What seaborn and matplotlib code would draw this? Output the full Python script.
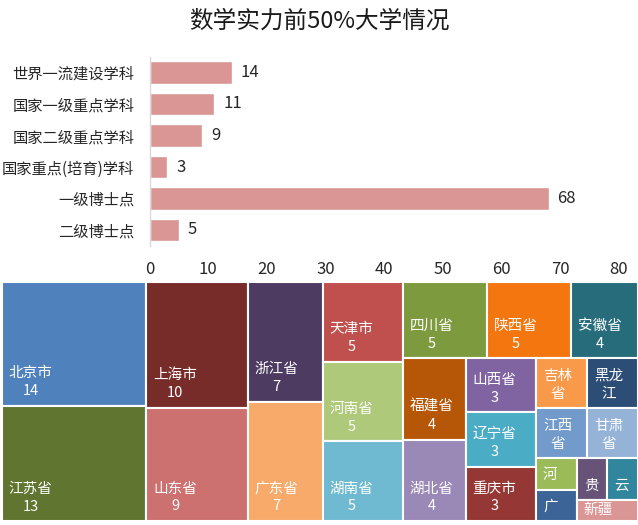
import math
import matplotlib
matplotlib.use("Agg")
import matplotlib.pyplot as plt
from matplotlib.patches import Rectangle
import pandas as pd
import seaborn as sns

# ---------------- data ----------------
title = "数学实力前50%大学情况"

bar_categories = ["世界一流建设学科", "国家一级重点学科", "国家二级重点学科",
                  "国家重点(培育)学科", "一级博士点", "二级博士点"]
bar_values = [14, 11, 9, 3, 68, 5]
bar_ticks = [0, 10, 20, 30, 40, 50, 60, 70, 80]

tm_names = ["北京市", "江苏省", "上海市", "山东省", "浙江省", "广东省",
            "天津市", "河南省", "湖南省", "四川省", "陕西省", "安徽省",
            "福建省", "湖北省", "山西省", "辽宁省", "重庆市",
            "吉林省", "黑龙江", "江西省", "甘肃省",
            "河北省", "广西", "贵州省", "云南省", "新疆"]
tm_values = [14, 13, 10, 9, 7, 7,
             5, 5, 5, 5, 5, 4,
             4, 4, 3, 3, 3,
             2, 2, 2, 2,
             1, 1, 1, 1, 1]
tm_colors = ["#4F81BD", "#5F7530", "#772C2A", "#CD7170", "#4D3B62", "#F8AA6A",
             "#C0504D", "#AFC97A", "#6FBAD0", "#7D9B3E", "#F4760E", "#276C7B",
             "#B65708", "#9A88B7", "#8064A2", "#4BACC6", "#953735",
             "#F89A4A", "#2C4D75", "#729ACA", "#95B3D7",
             "#9BBB59", "#3C6497", "#675278", "#31859C", "#D99694"]

bar_color = "#D99694"

# ---------------- style ----------------
sns.set_theme(style="white")
plt.rcParams["font.family"] = ["Noto Sans CJK SC", "DejaVu Sans"]

W_PX, H_PX = 638, 525
fig = plt.figure(figsize=(W_PX / 100, H_PX / 100), dpi=100)

fig.text(0.5, 1 - 21 / H_PX, title, ha="center", va="center",
         fontsize=17, color="#1a1a1a")

# ---------------- bar chart ----------------
ax = fig.add_axes([149.5 / W_PX, 1 - 245.75 / H_PX,
                   (619 - 149.5) / W_PX, (245.75 - 56.75) / H_PX])
df = pd.DataFrame({"cat": bar_categories, "val": bar_values})
sns.barplot(data=df, x="val", y="cat", orient="h", color=bar_color,
            saturation=1, width=0.73, ax=ax)
ax.set_xlim(bar_ticks[0], bar_ticks[-1])
ax.set_xticks(bar_ticks)
ax.set_xlabel("")
ax.set_ylabel("")
for s in ["top", "right", "bottom"]:
    ax.spines[s].set_visible(False)
ax.spines["left"].set_color("#D9D9D9")
ax.spines["left"].set_linewidth(1)
ax.tick_params(axis="y", length=0, pad=11, labelsize=11, labelcolor="#262626")
ax.tick_params(axis="x", length=0, pad=11, labelsize=12, labelcolor="#262626")
for i, v in enumerate(bar_values):
    ax.annotate(str(v), xy=(v, i), xytext=(9, 0), textcoords="offset pixels",
                ha="left", va="center", fontsize=12, color="#262626")

# ---------------- treemap (squarified) ----------------
TX0, TX1, TY0, TY1 = 2, 638, 282, 521
TW, TH = TX1 - TX0, TY1 - TY0
tax = fig.add_axes([TX0 / W_PX, 1 - TY1 / H_PX, TW / W_PX, TH / H_PX])
tax.set_xlim(0, TW)
tax.set_ylim(TH, 0)
tax.axis("off")

order = sorted(range(len(tm_values)), key=lambda k: -tm_values[k])
total = sum(tm_values)
unit = TW * TH / total
areas = [tm_values[k] * unit for k in order]


def worst(row, s):
    sm = sum(row)
    return max(max(row) * s * s / (sm * sm), (sm * sm) / (s * s * min(row)))


rects = []
x, y, w, h = 0.0, 0.0, float(TW), float(TH)
i = 0
while i < len(areas):
    s = min(w, h)
    row = [areas[i]]
    j = i + 1
    while j < len(areas) and worst(row + [areas[j]], s) < worst(row, s):
        row.append(areas[j])
        j += 1
    sm = sum(row)
    if w >= h:
        cw_ = sm / h
        yy = y
        for a in row:
            ch = a / cw_
            rects.append((x, yy, cw_, ch))
            yy += ch
        x += cw_
        w -= cw_
    else:
        rh = sm / w
        xx = x
        for a in row:
            rw = a / rh
            rects.append((xx, y, rw, rh))
            xx += rw
        y += rh
        h -= rh
    i = j

CW = 14.5   # px per CJK char
LH = 18.0   # line height px
for k, (rx, ry, rw, rh) in zip(order, rects):
    tax.add_patch(Rectangle((rx, ry), rw, rh, facecolor=tm_colors[k],
                            edgecolor="white", linewidth=1.5))
    name = tm_names[k]
    cpl = max(1, int((rw - 14) // CW))
    lines = [name[p:p + cpl] for p in range(0, len(name), cpl)]
    lines.append(str(tm_values[k]))
    n = max(1, 1 + int((rh - 30) // 17))
    lines = lines[:n]
    widths = [len(l) * (CW if not l.isdigit() else CW * 0.55) for l in lines]
    cx = rx + 7 + max(widths) / 2
    last_c = max(ry + rh - 14.5, ry + 10)
    for li, txt in enumerate(lines):
        cy = last_c - (len(lines) - 1 - li) * LH
        tax.text(cx, cy, txt, ha="center", va="center", fontsize=10.5,
                 color="white", clip_on=True)

fig.savefig("out.png", dpi=100)
